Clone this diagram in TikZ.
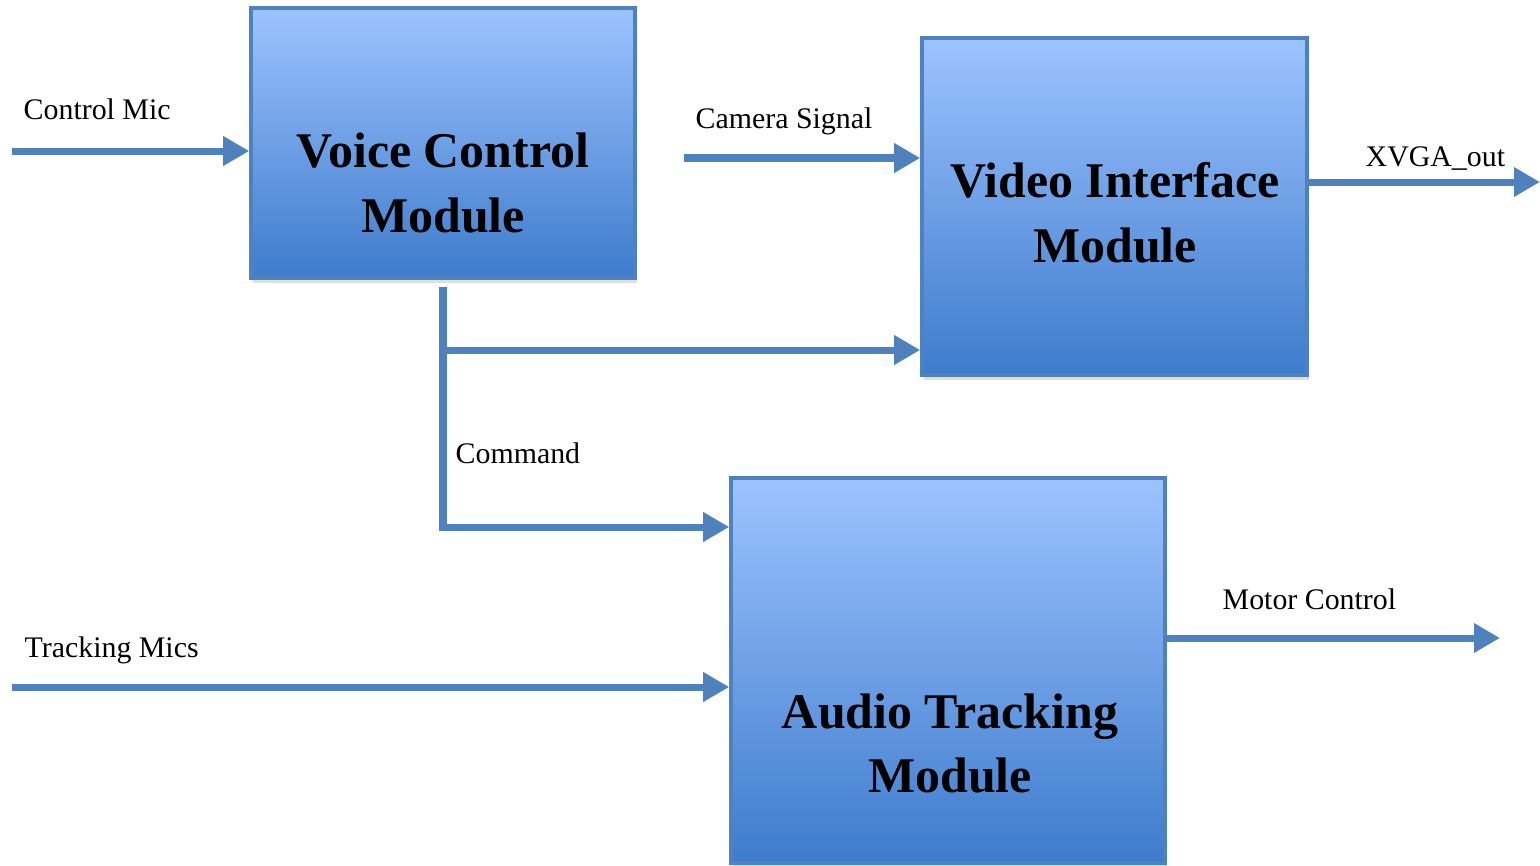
\documentclass[tikz,border=0pt]{standalone}
\usepackage{fontspec}
\setmainfont{Liberation Serif}
\usepackage{tikz}
\usetikzlibrary{arrows.meta,positioning,shadows,calc}
\usepackage{xcolor}
\definecolor{mdblue}{RGB}{79,129,189}
\definecolor{mdtop}{RGB}{157,195,255}
\definecolor{mdbottom}{RGB}{62,124,204}
\tikzstyle{module} = [rectangle, inner sep=0pt, draw=mdblue, line width=1pt, top color=mdtop, bottom color=mdbottom, drop shadow={shadow xshift=0.02cm, shadow yshift=-0.05cm, opacity=0.25}]
\tikzstyle{title} = [align=center, font=\fontsize{14.2}{18.4}\selectfont\bfseries]
\tikzstyle{sig} = [anchor=base west, inner sep=0pt, font=\fontsize{8.5}{10}\selectfont]
\tikzstyle{arrow} = [line width=0.07cm, color=mdblue, -{Triangle[length=0.26cm, width=0.28cm]}]

\begin{document}
\begin{tikzpicture}
\useasboundingbox (0,0) rectangle (15.4,8.65);

% modules
\node[module, minimum width=3.84cm, minimum height=2.70cm] (vcm) at (4.43,7.22) {};
\node[module, minimum width=3.85cm, minimum height=3.37cm] (vim) at (11.145,6.585) {};
\node[module, minimum width=4.34cm, minimum height=3.85cm] (atm) at (9.48,1.945) {};
\node[title] (vcmt) at (4.43,6.82) {Voice Control\\Module};
\node[title] (vimt) at (11.15,6.525) {Video Interface\\Module};
\node[title] (atmt) at (9.50,1.215) {Audio Tracking\\Module};

% free ends
\coordinate (cmic) at (0.12,7.14);
\coordinate (csig) at (6.84,7.07);
\coordinate (xout) at (15.40,6.83);
\coordinate (cmdtop) at (4.43,5.78);
\coordinate (cmdbr) at (4.43,5.15);
\coordinate (cmdbot) at (4.43,3.38);
\coordinate (tmic) at (0.12,1.78);
\coordinate (mctl) at (15.00,2.27);

% signals
\draw[arrow] (cmic) -- (cmic -| vcm.west);
\draw[arrow] (csig) -- (csig -| vim.west);
\draw[arrow] (vim.east |- xout) -- (xout);
\draw[arrow] (cmdtop) -- (cmdbot) -- (cmdbot -| atm.west);
\draw[arrow] (cmdbr) -- (cmdbr -| vim.west);
\draw[arrow] (tmic) -- (tmic -| atm.west);
\draw[arrow] (atm.east |- mctl) -- (mctl);

% labels
\node[sig] (lcmic) at (0.23,7.45) {Control Mic};
\node[sig] (lcsig) at (6.95,7.37) {Camera Signal};
\node[sig] (lxout) at (13.65,6.98) {XVGA\_out};
\node[sig] (lcmd) at (4.55,4.02) {Command};
\node[sig] (ltmic) at (0.24,2.08) {Tracking Mics};
\node[sig] (lmctl) at (12.22,2.56) {Motor Control};
\end{tikzpicture}
\end{document}
